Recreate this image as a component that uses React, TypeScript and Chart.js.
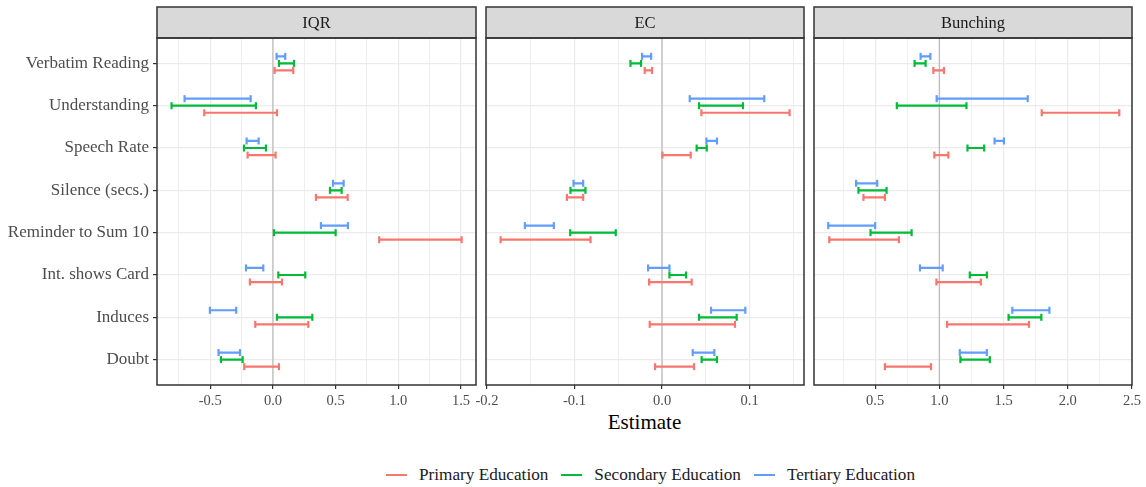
import React, { useEffect, useRef } from "react";
import { Chart, registerables } from "chart.js";

Chart.register(...registerables);

const FONT = "'Liberation Serif', 'Times New Roman', serif";

const categories = [
  "Verbatim Reading",
  "Understanding",
  "Speech Rate",
  "Silence (secs.)",
  "Reminder to Sum 10",
  "Int. shows Card",
  "Induces",
  "Doubt",
];

const seriesNames = ["Primary Education", "Secondary Education", "Tertiary Education"];
const seriesColors = ["#F8766D", "#00BA38", "#619CFF"];
const panelTitles = ["IQR", "EC", "Bunching"];

// [low, high] per category
const iqrPrimary = [[0.013, 0.162], [-0.548, 0.032], [-0.202, 0.021], [0.343, 0.596], [0.848, 1.505], [-0.184, 0.072], [-0.141, 0.282], [-0.229, 0.048]];
const iqrSecondary = [[0.048, 0.168], [-0.809, -0.136], [-0.231, -0.056], [0.455, 0.548], [0.008, 0.5], [0.043, 0.258], [0.032, 0.314], [-0.415, -0.242]];
const iqrTertiary = [[0.029, 0.098], [-0.705, -0.178], [-0.21, -0.114], [0.479, 0.564], [0.383, 0.598], [-0.215, -0.077], [-0.503, -0.293], [-0.434, -0.263]];

const ecPrimary = [[-0.0198, -0.0114], [0.0449, 0.1456], [0.0004, 0.0327], [-0.1087, -0.0901], [-0.1844, -0.0817], [-0.0148, 0.0338], [-0.0141, 0.0833], [-0.008, 0.0365]];
const ecSecondary = [[-0.0361, -0.024], [0.0422, 0.0924], [0.0395, 0.051], [-0.1046, -0.0875], [-0.1049, -0.0529], [0.0084, 0.0274], [0.0422, 0.0852], [0.0452, 0.0627]];
const ecTertiary = [[-0.0228, -0.0125], [0.0316, 0.1167], [0.0506, 0.0627], [-0.1011, -0.0901], [-0.1567, -0.1236], [-0.016, 0.0084], [0.0559, 0.0951], [0.035, 0.0597]];

const bunchPrimary = [[0.953, 1.036], [1.797, 2.401], [0.961, 1.07], [0.409, 0.576], [0.143, 0.685], [0.977, 1.323], [1.06, 1.698], [0.576, 0.935]];
const bunchSecondary = [[0.807, 0.893], [0.669, 1.211], [1.219, 1.349], [0.37, 0.589], [0.464, 0.784], [1.237, 1.37], [1.539, 1.794], [1.164, 1.393]];
const bunchTertiary = [[0.854, 0.93], [0.979, 1.688], [1.43, 1.503], [0.352, 0.516], [0.135, 0.5], [0.849, 1.026], [1.568, 1.857], [1.159, 1.37]];

const iqrTicks = [-0.5, 0, 0.5, 1.0, 1.5];
const iqrMinor = [-0.75, -0.25, 0.25, 0.75, 1.25];
const ecTicks = [-0.2, -0.1, 0, 0.1];
const ecMinor = [-0.15, -0.05, 0.05, 0.15];
const bunchTicks = [0.5, 1.0, 1.5, 2.0, 2.5];
const bunchMinor = [0.25, 0.75, 1.25, 1.75, 2.25];

const iqrRange = [-0.925, 1.62];
const ecRange = [-0.2011, 0.1621];
const bunchRange = [0.024, 2.5];

const refValues = [0, 0, 1];
const dodge = [1 / 6, 0, -1 / 6];
const yRange = [0.4, 8.6];

function barData(pairs: number[][], offset: number) {
  const pts: any[] = [];
  pairs.forEach(([lo, hi], i) => {
    const y = i + 1 + offset;
    pts.push({ x: lo, y }, { x: hi, y }, { x: hi, y: null });
  });
  return pts;
}

const panelDecor = {
  id: "panelDecor",
  afterDraw(chart: any) {
    const { ctx, chartArea: a } = chart;
    const title = chart.options.plugins.panelDecor.title;
    ctx.save();
    const stripH = 31;
    ctx.fillStyle = "#d9d9d9";
    ctx.fillRect(a.left, a.top - stripH, a.right - a.left, stripH);
    ctx.strokeStyle = "#333333";
    ctx.lineWidth = 1.5;
    ctx.strokeRect(a.left, a.top - stripH, a.right - a.left, stripH);
    ctx.fillStyle = "#1a1a1a";
    ctx.font = `16.5px ${FONT}`;
    ctx.textAlign = "center";
    ctx.textBaseline = "middle";
    ctx.fillText(title, (a.left + a.right) / 2, a.top - stripH / 2 + 1);
    ctx.strokeRect(a.left, a.top, a.right - a.left, a.bottom - a.top);
    ctx.restore();
  },
};

type PanelProps = {
  idx: number;
  canvasLeft: number;
  canvasWidth: number;
  padLeft: number;
  padRight: number;
  yWidth: number;
  showY: boolean;
  series: number[][][];
  ticks: number[];
  minor: number[];
  range: number[];
};

const CANVAS_TOP = 5;
const CANVAS_H = 405;

function Panel(p: PanelProps) {
  const ref = useRef<HTMLCanvasElement>(null);
  useEffect(() => {
    const canvas = ref.current!;
    const isMajor = (v: number) => p.ticks.some((t) => Math.abs(t - v) < 1e-9);
    const allTicks = [...p.ticks, ...p.minor].sort((a, b) => a - b);
    const datasets: any[] = p.series.map((pairs, s) => ({
      label: seriesNames[s],
      data: barData(pairs, dodge[s]),
      borderColor: seriesColors[s],
      backgroundColor: seriesColors[s],
      borderWidth: 2.2,
      pointStyle: "line",
      rotation: 90,
      pointRadius: 3.5,
      pointHoverRadius: 3.5,
      pointBorderWidth: 2.2,
      pointBorderColor: seriesColors[s],
      spanGaps: false,
      fill: false,
      tension: 0,
    }));
    datasets.push({
      label: "ref",
      data: [
        { x: refValues[p.idx], y: yRange[0] },
        { x: refValues[p.idx], y: yRange[1] },
      ],
      borderColor: "#bdbdbd",
      borderWidth: 1.3,
      pointRadius: 0,
      fill: false,
    });
    const chart = new Chart(canvas, {
      type: "line",
      data: { datasets },
      plugins: [panelDecor as any],
      options: {
        animation: false,
        responsive: false,
        maintainAspectRatio: false,
        layout: { autoPadding: false, padding: { top: 33, left: p.padLeft, right: p.padRight, bottom: 0 } },
        plugins: {
          legend: { display: false },
          tooltip: { enabled: false },
          panelDecor: { title: panelTitles[p.idx] },
        } as any,
        scales: {
          x: {
            type: "linear",
            min: p.range[0],
            max: p.range[1],
            afterBuildTicks: (s: any) => {
              s.ticks = allTicks.map((v) => ({ value: v }));
            },
            afterFit: (s: any) => {
              s.height = 25;
            },
            border: { display: false },
            grid: {
              color: "#ebebeb",
              lineWidth: (c: any) => (c.tick && isMajor(c.tick.value) ? 1.2 : 0.8),
              drawTicks: true,
              tickLength: 4,
              tickWidth: 1.2,
              tickColor: (c: any) => (c.tick && isMajor(c.tick.value) ? "#333333" : "rgba(0,0,0,0)"),
            },
            ticks: {
              color: "#4d4d4d",
              font: { family: FONT, size: 14.5 },
              padding: 3,
              maxRotation: 0,
              autoSkip: false,
              callback: (v: any) => (isMajor(Number(v)) ? Number(v).toFixed(1) : ""),
            },
          },
          y: {
            type: "linear",
            min: yRange[0],
            max: yRange[1],
            reverse: true,
            afterBuildTicks: (s: any) => {
              s.ticks = categories.map((_, i) => ({ value: i + 1 }));
            },
            afterFit: (s: any) => {
              s.width = p.yWidth;
            },
            border: { display: false },
            grid: {
              color: "#ebebeb",
              lineWidth: 1.2,
              drawTicks: p.showY,
              tickLength: 4,
              tickWidth: 1.2,
              tickColor: "#333333",
            },
            ticks: {
              display: p.showY,
              color: "#4d4d4d",
              font: { family: FONT, size: 17 },
              padding: 4,
              autoSkip: false,
              callback: (v: any) => categories[Math.round(Number(v)) - 1],
            },
          },
        },
      } as any,
    });
    return () => chart.destroy();
  }, []);
  return (
    <canvas
      ref={ref}
      width={p.canvasWidth}
      height={CANVAS_H}
      style={{
        position: "absolute",
        left: p.canvasLeft,
        top: CANVAS_TOP,
        width: p.canvasWidth,
        height: CANVAS_H,
      }}
    />
  );
}

export default function App() {
  return (
    <div
      style={{
        position: "fixed",
        left: 0,
        top: 0,
        width: 1146,
        height: 487,
        background: "#ffffff",
        fontFamily: FONT,
        overflow: "hidden",
      }}
    >
      <Panel idx={0} canvasLeft={0} canvasWidth={478} padLeft={0} padRight={2} yWidth={157} showY={true}
        series={[iqrPrimary, iqrSecondary, iqrTertiary]} ticks={iqrTicks} minor={iqrMinor} range={iqrRange} />
      <Panel idx={1} canvasLeft={466} canvasWidth={340} padLeft={20} padRight={2} yWidth={0} showY={false}
        series={[ecPrimary, ecSecondary, ecTertiary]} ticks={ecTicks} minor={ecMinor} range={ecRange} />
      <Panel idx={2} canvasLeft={794} canvasWidth={352} padLeft={20} padRight={14} yWidth={0} showY={false}
        series={[bunchPrimary, bunchSecondary, bunchTertiary]} ticks={bunchTicks} minor={bunchMinor} range={bunchRange} />
      <div
        style={{
          position: "absolute",
          left: 157,
          width: 975,
          top: 410,
          textAlign: "center",
          fontSize: 21,
          lineHeight: "24px",
          color: "#000",
        }}
      >
        Estimate
      </div>
      <div
        style={{
          position: "absolute",
          left: 386,
          top: 464,
          display: "flex",
          alignItems: "center",
          fontSize: 17.2,
          lineHeight: "22px",
          color: "#1a1a1a",
          whiteSpace: "nowrap",
        }}
      >
        {seriesNames.map((n, i) => (
          <div key={n} style={{ display: "flex", alignItems: "center", marginRight: 13 }}>
            <span style={{ display: "inline-block", width: 21, height: 2, background: seriesColors[i], marginRight: 12 }} />
            <span>{n}</span>
          </div>
        ))}
      </div>
    </div>
  );
}
